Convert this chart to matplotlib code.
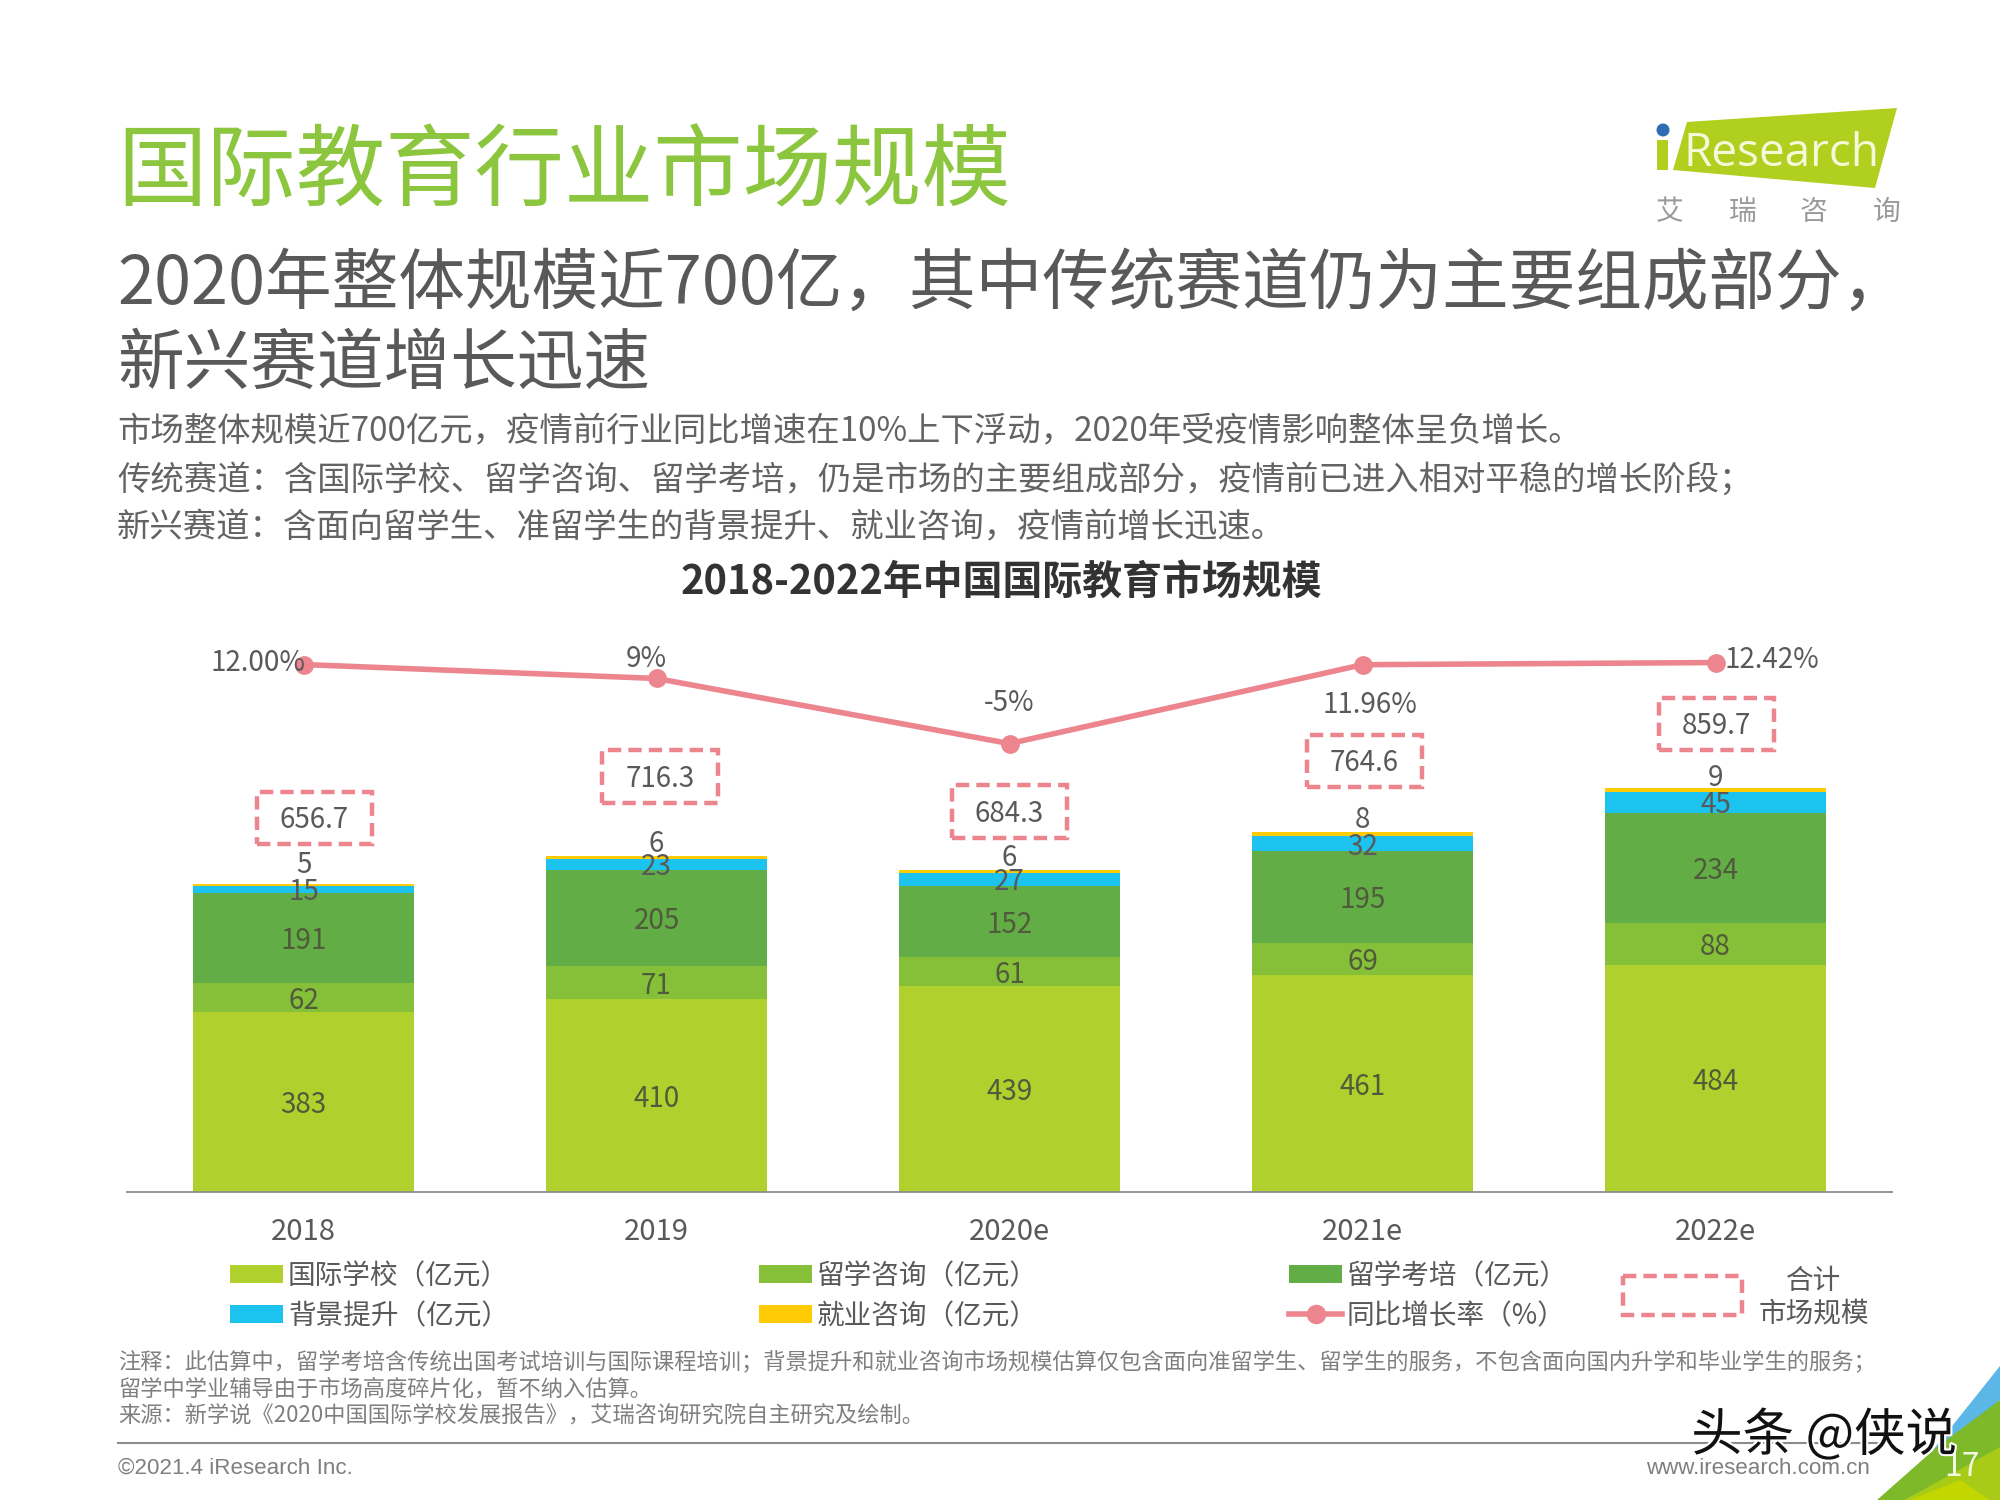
import matplotlib
matplotlib.use("Agg")
import matplotlib.pyplot as plt
from matplotlib.patches import Rectangle, Polygon, Circle
import matplotlib.patheffects as pe
import numpy as np

plt.rcParams['font.family'] = ['Noto Sans CJK SC', 'DejaVu Sans']

years = ["2018", "2019", "2020e", "2021e", "2022e"]
school = [383, 410, 439, 461, 484]
consult = [62, 71, 61, 69, 88]
exam = [191, 205, 152, 195, 234]
background = [15, 23, 27, 32, 45]
career = [5, 6, 6, 8, 9]
totals = [656.7, 716.3, 684.3, 764.6, 859.7]
growth = [12.00, 9, -5, 11.96, 12.42]
growth_labels = ["12.00%", "9%", "-5%", "11.96%", "12.42%"]

series_names = ["国际学校（亿元）", "留学咨询（亿元）", "留学考培（亿元）", "背景提升（亿元）", "就业咨询（亿元）"]
colors = ["#B0D12D", "#86BF38", "#62AD45", "#1CC3EE", "#FFCB05"]
pink = "#EC858D"
text_grey = "#595959"

W, H = 2000, 1500
fig = plt.figure(figsize=(W / 100, H / 100), dpi=100)

# full page layer in pixel coordinates
page = fig.add_axes([0, 0, 1, 1], zorder=0)
page.set_xlim(0, W)
page.set_ylim(H, 0)
page.axis("off")

page.text(117, 174, "国际教育行业市场规模", fontsize=64.4, color="#8CC63F", va="center")
page.text(117, 285, "2020年整体规模近700亿，其中传统赛道仍为主要组成部分，", fontsize=48, color="#595959", va="center")
page.text(117, 365, "新兴赛道增长迅速", fontsize=48, color="#595959", va="center")
body = ["市场整体规模近700亿元，疫情前行业同比增速在10%上下浮动，2020年受疫情影响整体呈负增长。",
        "传统赛道：含国际学校、留学咨询、留学考培，仍是市场的主要组成部分，疫情前已进入相对平稳的增长阶段；",
        "新兴赛道：含面向留学生、准留学生的背景提升、就业咨询，疫情前增长迅速。"]
for i, line in enumerate(body):
    page.text(117, 432 + i * 48, line, fontsize=24, color="#636363", va="center")
page.text(1001, 582, "2018-2022年中国国际教育市场规模", fontsize=28.7, fontweight="bold", color="#333333", ha="center", va="center")

# logo
page.add_patch(Polygon([(1687, 122), (1897, 108), (1875, 188), (1673, 170)], color="#B0CF1E", lw=0))
page.add_patch(Rectangle((1657, 140), 11, 30, color="#B0CF1E", lw=0))
page.add_patch(Circle((1663, 130), 6.5, color="#2E6DB4", lw=0))
page.text(1684, 154, "Research", fontsize=33, color="#F6F9D8", va="center", family="Open Sans")
for x, ch in zip([1670, 1743, 1813, 1887], "艾瑞咨询"):
    page.text(x, 212, ch, fontsize=20, color="#9A9A9A", ha="center", va="center")

# notes and footer
notes = ["注释：此估算中，留学考培含传统出国考试培训与国际课程培训；背景提升和就业咨询市场规模估算仅包含面向准留学生、留学生的服务，不包含面向国内升学和毕业学生的服务；",
         "留学中学业辅导由于市场高度碎片化，暂不纳入估算。",
         "来源：新学说《2020中国国际学校发展报告》，艾瑞咨询研究院自主研究及绘制。"]
for i, line in enumerate(notes):
    page.text(118, 1362 + i * 27, line, fontsize=16, color="#7F7F7F", va="center")
page.plot([118, 1880], [1443, 1443], color="#8C8C8C", lw=1.5)
page.text(118, 1468, "©2021.4 iResearch Inc.", fontsize=16.1, color="#7F7F7F", va="center", family="Liberation Sans")
page.text(1870, 1468, "www.iresearch.com.cn", fontsize=16.1, color="#7F7F7F", va="center", ha="right", family="Liberation Sans")

# corner decoration
page.add_patch(Polygon([(2000, 1366), (2000, 1400), (1943, 1453), (1933, 1450)], color="#5BB8E6", lw=0))
page.add_patch(Polygon([(2000, 1400), (2000, 1450), (1905, 1500), (1877, 1500), (1937, 1447)], color="#7DB928", lw=0))
page.add_patch(Polygon([(2000, 1447), (2000, 1500), (1905, 1500)], color="#A8CB17", lw=0))
page.add_patch(Polygon([(1960, 1480), (1990, 1500), (1910, 1500)], color="#C4D600", lw=0))
page.text(1962, 1467, "17", fontsize=23, color="#F4F8E0", ha="center", va="center")

# bars
bar_left, bar_right = 127, 1892
bar_top, bar_bottom = 620, 1192
ax = fig.add_axes([bar_left / W, 1 - bar_bottom / H, (bar_right - bar_left) / W, (bar_bottom - bar_top) / H], zorder=1)
ax.patch.set_alpha(0)
x = np.arange(len(years))
bottom = np.zeros(len(years))
stack = [school, consult, exam, background, career]
career_gap = [39, 25, 25, 26, 20]
for vals, color, name in zip(stack, colors, series_names):
    ax.bar(x, vals, 0.625, bottom=bottom, color=color, label=name)
    for i, (xi, v, b) in enumerate(zip(x, vals, bottom)):
        if vals is career:
            ax.text(xi, b + v + career_gap[i], str(v), fontsize=20, color=text_grey, ha="center", va="center", zorder=5)
        elif vals is background:
            ax.text(xi, b + v / 2 - 6, str(v), fontsize=20, color=text_grey, ha="center", va="center", zorder=5)
        else:
            ax.text(xi, b + v / 2 - 7, str(v), fontsize=20, color="#4F5B3A", ha="center", va="center", zorder=5)
    bottom += np.array(vals)
ax.set_xlim(-0.5, 4.5)
ax.set_ylim(0, 1217)
ax.set_yticks([])
ax.set_xticks(x)
ax.set_xticklabels(years, fontsize=21, color=text_grey)
ax.tick_params(axis="x", length=0, pad=18)
for s in ["top", "left", "right"]:
    ax.spines[s].set_visible(False)
ax.spines["bottom"].set_color("#8C8C8C")
ax.spines["bottom"].set_linewidth(1.3)

# dashed total boxes
box_gap = [140, 169, 125, 152, 136]
box_shift = [0.03, 0.01, 0.0, 0.005, 0.003]
for xi, tot, base, gap, shift in zip(x, totals, bottom, box_gap, box_shift):
    ax.add_patch(Rectangle((xi + shift - 0.163, base + gap - 56), 0.326, 112, fill=False, ec=pink, lw=3.2, ls=(0, (3, 1.6))))
    ax.text(xi + shift, base + gap - 5, f"{tot:.1f}", fontsize=20, color=text_grey, ha="center", va="center")

# growth line on its own scale
ax2 = ax.twinx()
ax2.set_ylim(-101.4, 21.57)
ax2.axis("off")
ax2.plot(x, growth, color=pink, lw=4, marker="o", ms=12.5, label="同比增长率（%）")
label_dx = [-0.13, -0.03, 0.0, 0.02, 0.16]
label_dy = [0.4, 4.1, 8.7, -8.7, 0.5]
for xi, g, lab, dx, dy in zip(x, growth, growth_labels, label_dx, label_dy):
    ax2.text(xi + dx, g + dy, lab, fontsize=20, color=text_grey, ha="center", va="center")

# legend, placed by hand like the slide
legend_x = [230, 759, 1289]
legend_y = [1274, 1314]
for i, (name, color) in enumerate(zip(series_names, colors)):
    lx, ly = legend_x[i % 3], legend_y[i // 3]
    page.add_patch(Rectangle((lx, ly - 9), 53, 18, color=color, lw=0))
    page.text(lx + 58, ly + 2, name, fontsize=19.9, color=text_grey, va="center")
lx, ly = legend_x[2], legend_y[1]
page.plot([lx, lx + 53], [ly, ly], color=pink, lw=4)
page.plot([lx + 27], [ly], color=pink, marker="o", ms=13)
page.text(lx + 58, ly + 2, "同比增长率（%）", fontsize=19.9, color=text_grey, va="center")
page.add_patch(Rectangle((1623, 1276), 119, 39, fill=False, ec=pink, lw=3.2, ls=(0, (3, 1.6))))
page.text(1814, 1281, "合计", fontsize=19.9, color=text_grey, ha="center", va="center")
page.text(1814, 1313, "市场规模", fontsize=19.9, color=text_grey, ha="center", va="center")

# watermark on top of everything
mark = fig.add_axes([0, 0, 1, 1], zorder=3)
mark.set_xlim(0, W)
mark.set_ylim(H, 0)
mark.axis("off")
mark.text(1824, 1436, "头条 @侠说", fontsize=37, color="#111111", ha="center", va="center",
          path_effects=[pe.withStroke(linewidth=3, foreground="white")])

fig.savefig("out.png", dpi=100)
